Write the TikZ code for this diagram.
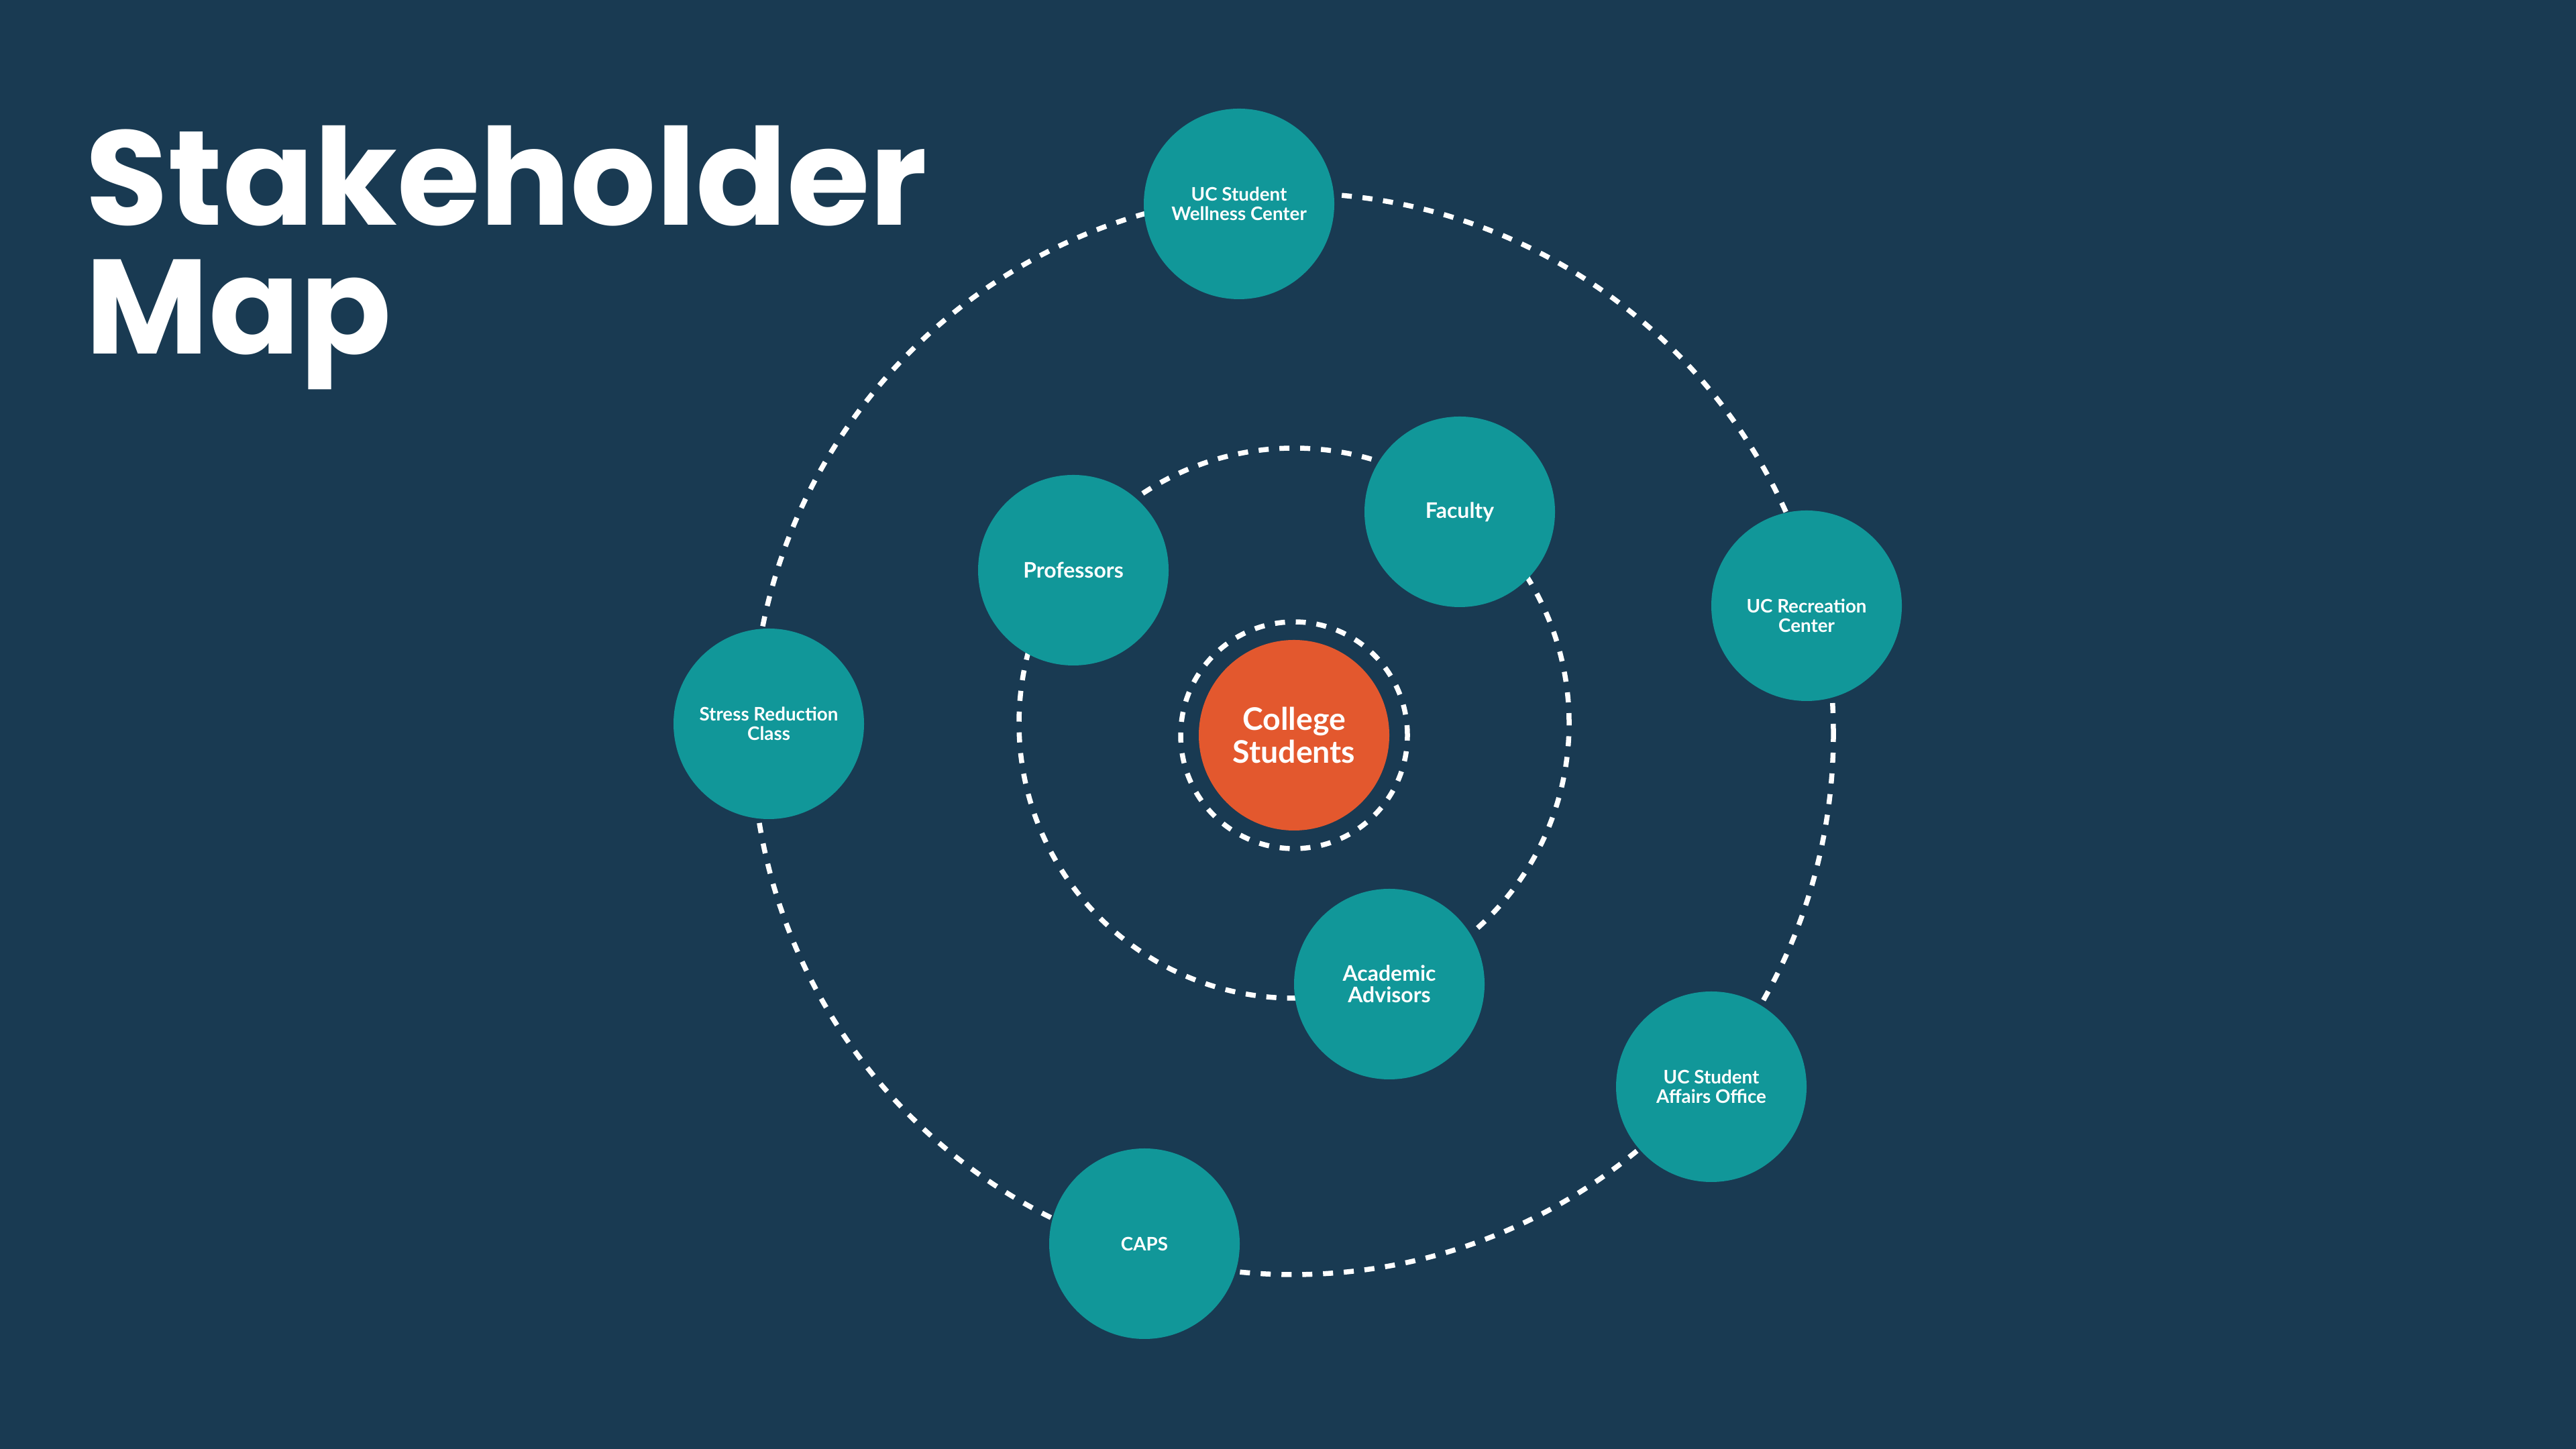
\documentclass[tikz,border=0pt]{standalone}
\usepackage{fontspec}
\newfontfamily\titlefont{Poppins}
\newfontfamily\labelfont{Lato}
\definecolor{bgnavy}{HTML}{193A52}
\definecolor{tealc}{HTML}{119799}
\definecolor{orangec}{HTML}{E3582E}
\tikzset{
  orbit/.style={draw=white, line width=0.075cm, dash pattern=on 0.15cm off 0.16cm},
  bubble/.style={circle, fill=tealc, minimum size=2.84cm, inner sep=0pt, text=white, align=center, font=\labelfont\bfseries},
  outerlbl/.style={font=\labelfont\bfseries\fontsize{7.9}{8.3}\selectfont},
  innerlbl/.style={font=\labelfont\bfseries\fontsize{9.1}{9.1}\selectfont},
  lbltext/.style={text=white, align=center, inner sep=0pt},
  titletext/.style={anchor=base west, text=white, inner sep=0pt, font=\titlefont\bfseries\fontsize{57}{55}\selectfont}
}
\begin{document}
\begin{tikzpicture}
\useasboundingbox (0,0) rectangle (38.4,21.6);
\fill[bgnavy] (0,0) rectangle (38.4,21.6);
% title
\node[titletext] (title1) at (1.27,18.24) {Stakeholder};
\node[titletext] (title2) at (1.27,16.32) {Map};
% orbits
\draw[orbit] (19.27,10.66) circle (8.06);
\draw[orbit] (19.29,10.82) circle (4.10);
\draw[orbit] (19.29,10.64) circle (1.69);
% center
\node[bubble, fill=orangec, font=\labelfont\bfseries\fontsize{13.2}{13.8}\selectfont] (students) at (19.29,10.64) {College\\Students};
% inner stakeholders
\node[bubble, innerlbl] (professors) at (16.00,13.10) {Professors};
\node[bubble, innerlbl] (faculty) at (21.76,13.97) {Faculty};
\node[bubble, innerlbl] (advisors) at (20.71,6.93) {Academic\\Advisors};
% outer stakeholders
\node[bubble, outerlbl] (wellness) at (18.47,18.56) {UC Student\\Wellness Center};
\node[bubble] (recreation) at (26.93,12.57) {};
\node[lbltext, outerlbl] (recreationtext) at ([yshift=-0.15cm]recreation.center) {UC Recreation\\Center};
\node[bubble, outerlbl] (affairs) at (25.51,5.40) {UC Student\\Affairs Office};
\node[bubble, outerlbl] (caps) at (17.06,3.06) {CAPS};
\node[bubble, outerlbl] (stress) at (11.46,10.81) {Stress Reduction\\Class};
\end{tikzpicture}
\end{document}
